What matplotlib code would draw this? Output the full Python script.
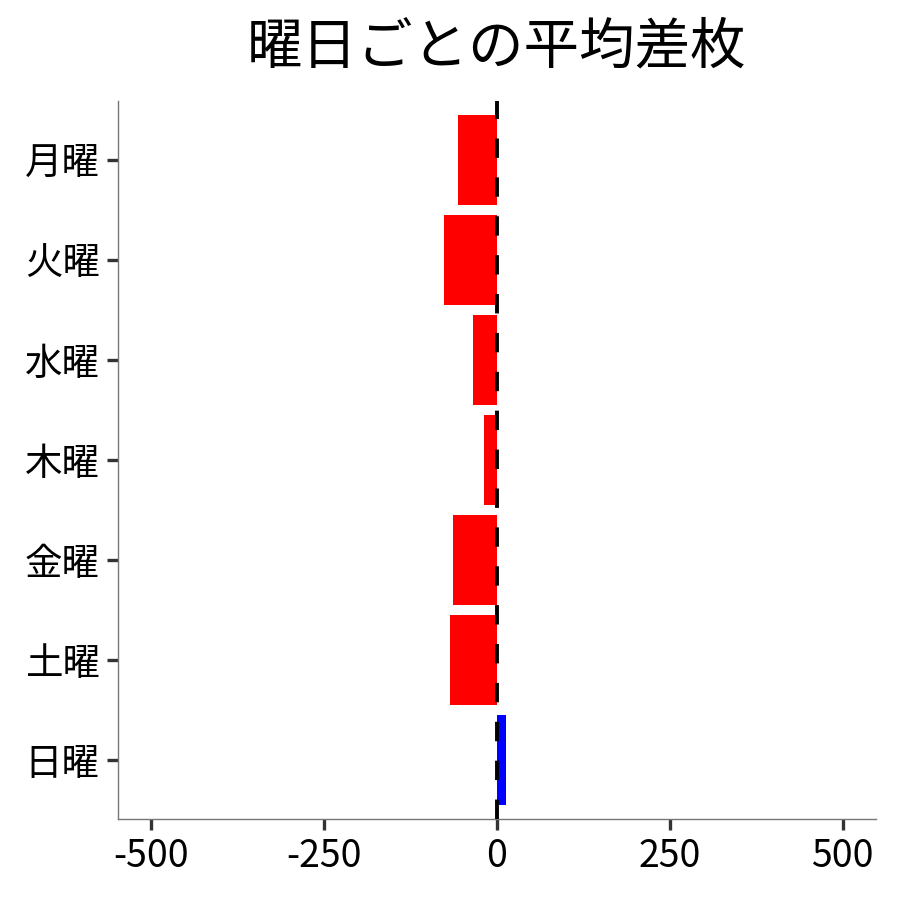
import matplotlib
matplotlib.use("Agg")
import matplotlib.pyplot as plt

plt.rcParams['font.family'] = ['Noto Sans CJK JP', 'DejaVu Sans']

days = ["月曜", "火曜", "水曜", "木曜", "金曜", "土曜", "日曜"]
avg_diff = [-56, -77, -35, -19, -64, -67, 13]
xticks = [-500, -250, 0, 250, 500]

colors = ["red" if v < 0 else "blue" for v in avg_diff]

fig = plt.figure(figsize=(9, 9), dpi=100)
ax = fig.add_axes([0.131, 0.09, 0.842, 0.798])
ax.barh(range(len(days)), avg_diff, height=0.9, color=colors, zorder=2)
ax.axvline(0, color="black", lw=2.8, ls=(0, (5, 5)), zorder=3)

ax.set_yticks(range(len(days)))
ax.set_yticklabels(days)
ax.set_ylim(6.59, -0.59)
ax.set_xlim(-548, 548)
ax.set_xticks(xticks)
ax.set_xticklabels([str(t) for t in xticks])

ax.tick_params(axis="both", labelsize=27, color="#333333", width=2.4,
               length=8, pad=5)
for s in ["top", "right"]:
    ax.spines[s].set_visible(False)
for s in ["left", "bottom"]:
    ax.spines[s].set_color("#777777")
    ax.spines[s].set_linewidth(1.0)

ax.set_title("曜日ごとの平均差枚", fontsize=40, pad=27)

fig.savefig("out.png", dpi=100)
